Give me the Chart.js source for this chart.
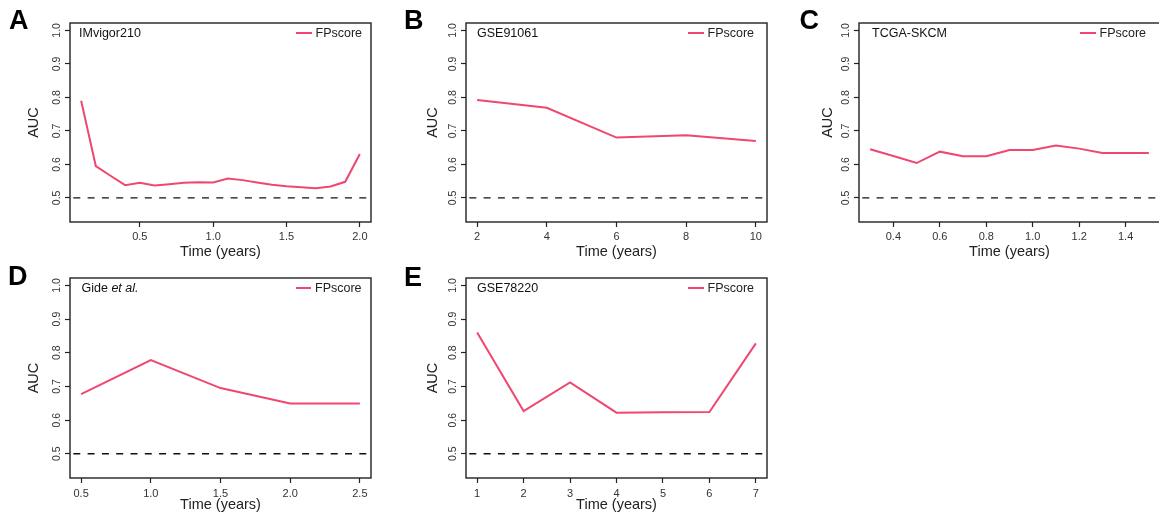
<!DOCTYPE html>
<html><head><meta charset="utf-8">
<script src="https://cdn.jsdelivr.net/npm/chart.js@4.4.1/dist/chart.umd.min.js"></script>
<style>
html,body{margin:0;padding:0;background:#fff;overflow:hidden;width:1159px;height:516px;position:relative;}
canvas{position:absolute;}
.t{position:absolute;white-space:nowrap;font-family:"Liberation Sans",Arial,Helvetica,sans-serif;line-height:1;color:#111;}
.lg{position:absolute;height:2px;background:#EF476F;}
</style></head><body>
<script>
// ---------- DATA ----------
const seriesName = 'FPscore';
const REF_AUC = 0.5;
const yTicks = [0.5, 0.6, 0.7, 0.8, 0.9, 1.0];

const cohortA = 'IMvigor210';
const timeA = [0.1,0.2,0.3,0.4,0.5,0.6,0.7,0.8,0.9,1.0,1.1,1.2,1.3,1.4,1.5,1.6,1.7,1.8,1.9,2.0];
const aucA  = [0.790,0.595,0.566,0.538,0.545,0.537,0.541,0.545,0.547,0.546,0.558,0.553,0.546,0.539,0.535,0.532,0.529,0.534,0.548,0.631];
const xTicksA = [0.5, 1.0, 1.5, 2.0];

const cohortB = 'GSE91061';
const timeB = [2,4,6,8,10];
const aucB  = [0.792,0.769,0.680,0.687,0.670];
const xTicksB = [2,4,6,8,10];

const cohortC = 'TCGA-SKCM';
const timeC = [0.3,0.4,0.5,0.6,0.7,0.8,0.9,1.0,1.1,1.2,1.3,1.4,1.5];
const aucC  = [0.645,0.625,0.604,0.638,0.624,0.624,0.643,0.643,0.656,0.647,0.634,0.634,0.634];
const xTicksC = [0.4,0.6,0.8,1.0,1.2,1.4];

const timeD = [0.5,1.0,1.5,2.0,2.5];
const aucD  = [0.677,0.778,0.695,0.649,0.649];
const xTicksD = [0.5,1.0,1.5,2.0,2.5];

const cohortE = 'GSE78220';
const timeE = [1,2,3,4,5,6,7];
const aucE  = [0.860,0.627,0.712,0.622,0.623,0.624,0.828];
const xTicksE = [1,2,3,4,5,6,7];

// ---------- STYLE / LAYOUT ----------
const PINK = '#EF476F';
const FAM = '"Liberation Sans", Arial, Helvetica, sans-serif';

const framePlugin = {
  id: 'frame',
  afterDraw(chart) {
    const {ctx, chartArea: a, scales: {y}} = chart;
    ctx.save();
    const py = y.getPixelForValue(REF_AUC);
    ctx.strokeStyle = '#111';
    ctx.lineWidth = 1.4;
    ctx.setLineDash([7, 7.3]);
    ctx.lineDashOffset = 11;
    ctx.beginPath(); ctx.moveTo(a.left, py); ctx.lineTo(a.right, py); ctx.stroke();
    ctx.setLineDash([]);
    ctx.strokeStyle = '#222';
    ctx.lineWidth = 1.4;
    ctx.strokeRect(a.left, a.top, a.right - a.left, a.bottom - a.top);
    ctx.restore();
  }
};

function addText(txt, left, baseline, size, opts = {}) {
  const d = document.createElement('div');
  d.className = 't';
  d.style.left = left + 'px';
  d.style.top = (baseline - 0.8465 * size) + 'px';
  d.style.fontSize = size + 'px';
  if (opts.bold) d.style.fontWeight = 'bold';
  if (opts.color) d.style.color = opts.color;
  if (opts.html) d.innerHTML = txt; else d.textContent = txt;
  document.body.appendChild(d);
}

function makePanel(p) {
  const W = (p.R - p.L) + 70 + 19, H = (p.B - p.T) + 23 + 40;
  const c = document.createElement('canvas');
  c.width = W; c.height = H;
  c.style.left = (p.L - 70) + 'px'; c.style.top = (p.T - 23) + 'px';
  c.style.width = W + 'px'; c.style.height = H + 'px';
  document.body.appendChild(c);
  new Chart(c, {
    type: 'line',
    data: { datasets: [{
      label: seriesName,
      data: p.t.map((t, i) => ({x: t, y: p.v[i]})),
      borderColor: PINK, backgroundColor: PINK, borderWidth: 2,
      pointRadius: 0, tension: 0, fill: false
    }]},
    options: {
      responsive: false, animation: false, devicePixelRatio: 1,
      layout: { padding: { left: 20, top: 23, right: 19, bottom: 0 } },
      plugins: { legend: { display: false }, tooltip: { enabled: false } },
      scales: {
        x: {
          type: 'linear', min: p.xmin, max: p.xmax,
          afterBuildTicks: s => { s.ticks = p.xt.map(v => ({value: v})); },
          afterFit: s => { s.height = 40; },
          ticks: { autoSkip: false, maxRotation: 0, padding: p.xpad, color: '#333',
                   font: { family: FAM, size: 11 },
                   callback: v => Number(v).toFixed(p.dec) },
          grid: { drawOnChartArea: false, drawTicks: true, tickLength: 5, tickColor: '#222', tickWidth: 1.2 },
          border: { display: false },
          title: { display: true, text: 'Time (years)', color: '#222',
                   font: { family: FAM, size: 14.5 }, padding: { top: 0, bottom: p.xtp } }
        },
        y: {
          type: 'linear', min: 0.428, max: 1.022,
          afterBuildTicks: s => { s.ticks = yTicks.map(v => ({value: v})); },
          afterFit: s => { s.width = 50; },
          ticks: { autoSkip: false, minRotation: 90, maxRotation: 90, crossAlign: 'center',
                   padding: 0.2, color: '#333', font: { family: FAM, size: 10.5 },
                   callback: v => Number(v).toFixed(1) },
          grid: { drawOnChartArea: false, drawTicks: true, tickLength: 5, tickColor: '#222', tickWidth: 1.2 },
          border: { display: false },
          title: { display: true, text: 'AUC', color: '#222',
                   font: { family: FAM, size: 14.5 }, padding: { top: p.ytp, bottom: 0 } }
        }
      }
    },
    plugins: [framePlugin]
  });
  // panel letter
  addText(p.letter, p.letX, p.letY, 27, {bold: true, color: '#000'});
  // cohort label
  addText(p.name, p.nameX, p.T + 15, 12.5, {html: !!p.html});
  // legend
  const lg = document.createElement('div');
  lg.className = 'lg';
  lg.style.left = p.lgX + 'px'; lg.style.top = (p.T + 10.3 - 1) + 'px'; lg.style.width = '15.5px';
  document.body.appendChild(lg);
  addText(seriesName, p.lgX + 19.5, p.T + 14.5, 12.5, {color: '#222'});
}

makePanel({letter:'A', letX:9,   letY:30,  name:cohortA, nameX:79,    lgX:296,  t:timeA, v:aucA, xt:xTicksA, dec:1,
           L:70,  T:23,  R:371,  B:222, xmin:0.024, xmax:2.076, xpad:3.4, xtp:1.3, ytp:5.3});
makePanel({letter:'B', letX:404, letY:30,  name:cohortB, nameX:477,   lgX:688,  t:timeB, v:aucB, xt:xTicksB, dec:0,
           L:466, T:23,  R:767,  B:222, xmin:1.68, xmax:10.32, xpad:3.4, xtp:1.3, ytp:8.3});
makePanel({letter:'C', letX:799.5, letY:30, name:cohortC, nameX:872,  lgX:1080, t:timeC, v:aucC, xt:xTicksC, dec:1,
           L:859, T:23,  R:1160, B:222, xmin:0.252, xmax:1.548, xpad:3.4, xtp:1.3, ytp:9.8});
makePanel({letter:'D', letX:8,   letY:286, name:'Gide <i>et al.</i>', html:true, nameX:81.5, lgX:295.5, t:timeD, v:aucD, xt:xTicksD, dec:1,
           L:70,  T:278, R:371,  B:478, xmin:0.42, xmax:2.58, xpad:4.4, xtp:4.3, ytp:5.3});
makePanel({letter:'E', letX:404, letY:287, name:cohortE, nameX:477,   lgX:688,  t:timeE, v:aucE, xt:xTicksE, dec:0,
           L:466, T:278, R:767,  B:478, xmin:0.76, xmax:7.24, xpad:4.4, xtp:4.3, ytp:8.3});
</script>
</body></html>
